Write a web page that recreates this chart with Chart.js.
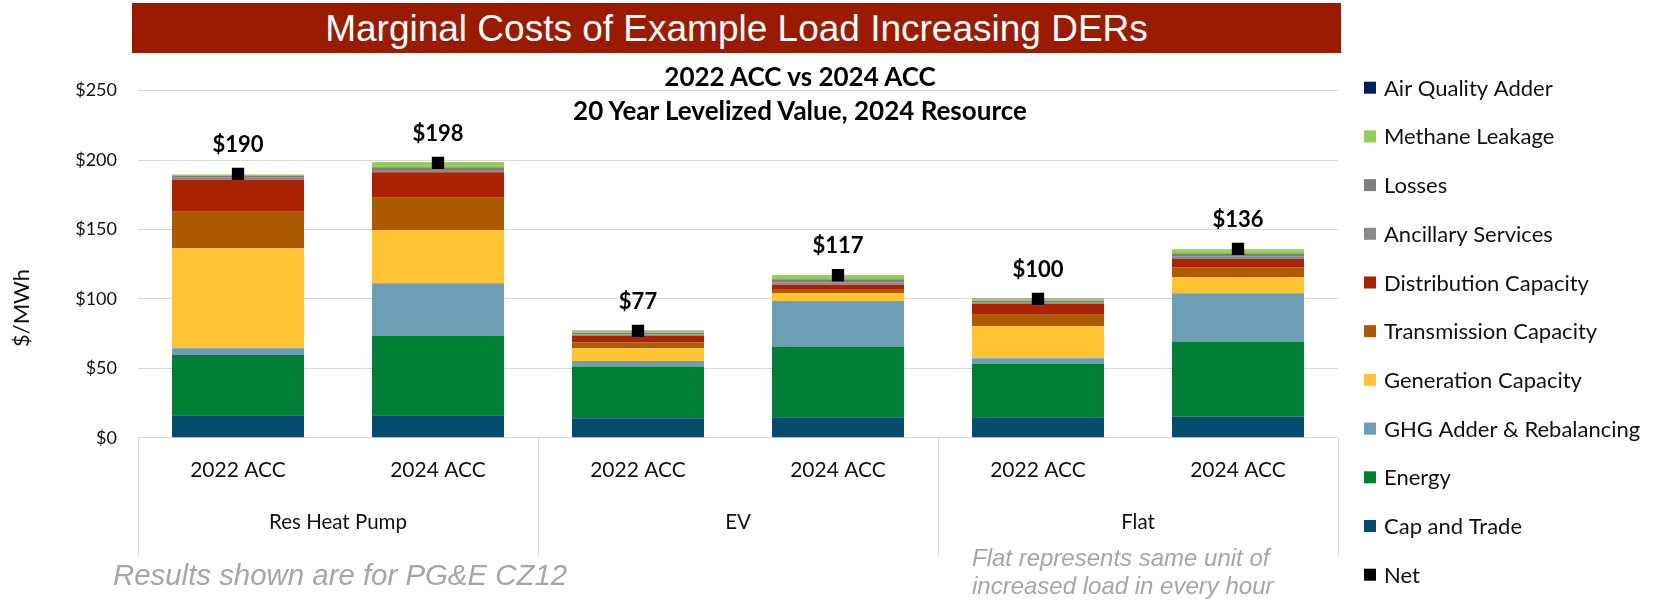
<!DOCTYPE html>
<html>
<head>
<meta charset="utf-8">
<script src="https://cdn.jsdelivr.net/npm/chart.js@4.4.1/dist/chart.umd.min.js"></script>
<style>
  body { margin: 0; background: #fff; }
  #wrap { position: relative; width: 1656px; height: 600px; overflow: hidden; }
  #banner { position: absolute; left: 132px; top: 3px; width: 1209px; height: 50px; background: #9b1b00; color: #fff;
    font: 37px "Liberation Sans", Arial, sans-serif; text-align: center; line-height: 52px; }
  canvas { position: absolute; left: 0; top: 0; }
  .ctitle { position: absolute; left: 450px; width: 700px; text-align: center; font: bold 26px Lato, sans-serif; color: #000; line-height: 30px; }
  .note { position: absolute; color: #a6a6a6; font-style: italic; font-family: "Liberation Sans", Arial, sans-serif; }
</style>
</head>
<body>
<div id="wrap">
  <canvas id="chart" width="1656" height="600"></canvas>
  <div id="banner">Marginal Costs of Example Load Increasing DERs</div>
  <div class="ctitle" style="top:61px">2022 ACC vs 2024 ACC</div>
  <div class="ctitle" style="top:95px">20 Year Levelized Value, 2024 Resource</div>
  <div class="note" style="left:113px; top:559px; font-size:29.4px; line-height:32px">Results shown are for PG&amp;E CZ12</div>
  <div class="note" style="left:972px; top:544px; font-size:24px; line-height:28px">Flat represents same unit of<br>increased load in every hour</div>
</div>
<script>
const groups = ['Res Heat Pump', 'EV', 'Flat'];
const scenarios = ['2022 ACC', '2024 ACC', '2022 ACC', '2024 ACC', '2022 ACC', '2024 ACC'];

// stacked from the bottom up, $/MWh
const capAndTrade = [16.1, 16.1, 14.0, 14.7, 14.7, 15.1];
const energy      = [43.5, 57.4, 37.2, 50.9, 38.6, 54.1];
const ghgAdder    = [4.8, 37.7, 4.1, 32.9, 3.9, 34.8];
const genCapacity = [72.0, 38.4, 9.1, 5.5, 23.3, 11.6];
const transCapacity = [26.4, 23.3, 4.1, 3.1, 8.1, 7.2];
const distCapacity  = [22.9, 18.3, 4.8, 3.1, 7.7, 5.9];
const ancillary   = [1.5, 1.6, 1.2, 1.5, 1.3, 1.7];
const losses      = [1.3, 2.0, 1.1, 2.4, 1.1, 2.5];
const methane     = [1.0, 3.6, 1.5, 2.9, 1.4, 2.8];
const airQuality  = [0.1, 0.1, 0.1, 0.1, 0.1, 0.1];
const net = [190, 198, 77, 117, 100, 136];

const series = [
  {label: 'Cap and Trade', data: capAndTrade, color: '#064c6e'},
  {label: 'Energy', data: energy, color: '#007f37'},
  {label: 'GHG Adder & Rebalancing', data: ghgAdder, color: '#6c9fb5'},
  {label: 'Generation Capacity', data: genCapacity, color: '#ffc333'},
  {label: 'Transmission Capacity', data: transCapacity, color: '#ae5a00'},
  {label: 'Distribution Capacity', data: distCapacity, color: '#ad2200'},
  {label: 'Ancillary Services', data: ancillary, color: '#8a8a8a'},
  {label: 'Losses', data: losses, color: '#7f7f7f'},
  {label: 'Methane Leakage', data: methane, color: '#92d050'},
  {label: 'Air Quality Adder', data: airQuality, color: '#002060'},
];

const datasets = series.map(s => ({
  type: 'bar',
  label: s.label,
  data: s.data,
  backgroundColor: s.color,
  borderWidth: 0,
  stack: 'cost',
  order: 1,
}));
datasets.push({
  type: 'line',
  label: 'Net',
  data: net,
  showLine: false,
  pointStyle: 'rect',
  pointRadius: 8.7,
  pointBackgroundColor: '#000',
  pointBorderWidth: 0,
  borderColor: '#000',
  backgroundColor: '#000',
  stack: 'net',
  order: 0,
});

const extras = {
  id: 'extras',
  afterDraw(chart) {
    const {ctx, chartArea, scales} = chart;
    const x2 = scales.x2;
    ctx.save();
    // group separators under the axis
    ctx.strokeStyle = '#d9d9d9';
    ctx.lineWidth = 1;
    const step = (x2.right - x2.left) / groups.length;
    for (let i = 0; i <= groups.length; i++) {
      const px = Math.round(x2.left + i * step) + 0.5;
      ctx.beginPath();
      ctx.moveTo(px, chartArea.bottom);
      ctx.lineTo(px, chartArea.bottom + 117);
      ctx.stroke();
    }
    // net value labels
    const meta = chart.getDatasetMeta(chart.data.datasets.length - 1);
    ctx.fillStyle = '#000';
    ctx.textAlign = 'center';
    ctx.textBaseline = 'middle';
    ctx.font = 'bold 22px Lato';
    meta.data.forEach((pt, i) => ctx.fillText('$' + net[i], pt.x, pt.y - 29));
    // legend, top item first
    ctx.textAlign = 'left';
    ctx.font = '22px Lato';
    const items = chart.data.datasets.slice(0, series.length).reverse().concat(chart.data.datasets.slice(series.length));
    items.forEach((ds, i) => {
      const y = 87.7 + i * 48.7;
      ctx.fillStyle = ds.backgroundColor;
      ctx.fillRect(1364, y - 6, 12, 12);
      ctx.fillStyle = '#111';
      ctx.fillText(ds.label, 1384, y + 1);
    });
    // y axis title
    ctx.translate(22, 308);
    ctx.rotate(-Math.PI / 2);
    ctx.textAlign = 'center';
    ctx.font = '22px Lato';
    ctx.fillText('$/MWh', 0, 0);
    ctx.restore();
  }
};

new Chart('chart', {
  data: {labels: scenarios, datasets: datasets},
  options: {
    responsive: false,
    animation: false,
    layout: {padding: {left: 38, right: 318, top: 90.6, bottom: 57.3}},
    plugins: {legend: {display: false}, tooltip: {enabled: false}},
    scales: {
      x: {
        stacked: true,
        weight: 0,
        grid: {display: false},
        border: {display: false},
        ticks: {color: '#111', font: {family: 'Lato', size: 21}, padding: 11.5, maxRotation: 0},
        afterFit(s) { s.height = 55; },
      },
      x2: {
        type: 'category',
        labels: groups,
        position: 'bottom',
        offset: true,
        weight: 1,
        grid: {display: false},
        border: {display: false},
        ticks: {color: '#111', font: {family: 'Lato', size: 20.5}, padding: 9, maxRotation: 0},
        afterFit(s) { s.height = 50; },
      },
      y: {
        stacked: true,
        min: 0,
        max: 250,
        grid: {color: '#d9d9d9', drawTicks: false},
        border: {display: false},
        ticks: {stepSize: 50, color: '#111', font: {family: 'Lato', size: 18}, padding: 21, callback: v => '$' + v},
        afterFit(s) { s.width = 100; },
      }
    },
    datasets: {bar: {categoryPercentage: 1, barPercentage: 0.66}},
  },
  plugins: [extras],
});
</script>
</body>
</html>
